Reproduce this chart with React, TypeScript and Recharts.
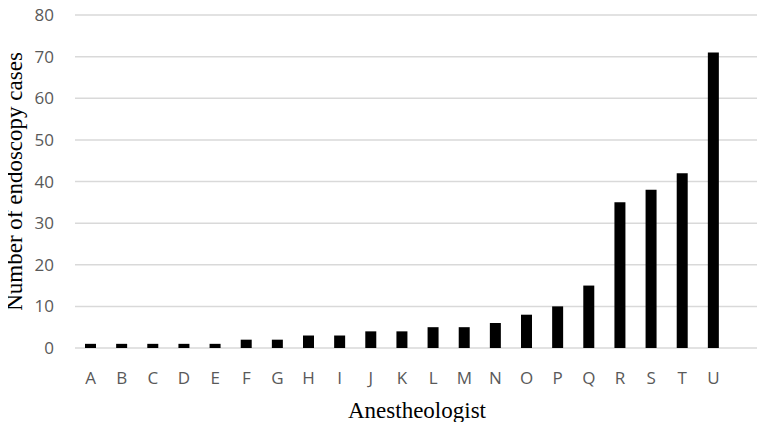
import React from 'react';
import { BarChart, Bar, XAxis, YAxis, CartesianGrid, Label } from 'recharts';

const anesthesiologists = ['A', 'B', 'C', 'D', 'E', 'F', 'G', 'H', 'I', 'J', 'K', 'L', 'M', 'N', 'O', 'P', 'Q', 'R', 'S', 'T', 'U'];
const caseCounts = [1, 1, 1, 1, 1, 2, 2, 3, 3, 4, 4, 5, 5, 6, 8, 10, 15, 35, 38, 42, 71];
const yTicks = [0, 10, 20, 30, 40, 50, 60, 70, 80];

const data = anesthesiologists.map((name, i) => ({ name, cases: caseCounts[i] }));

const tickStyle = { fontSize: 17, fill: '#595959', fontFamily: '"Open Sans", sans-serif' };
const titleFont = '"Liberation Serif", "Times New Roman", serif';

const YTitle = (props: any) => {
  const { viewBox } = props;
  const cy = viewBox.y + viewBox.height / 2;
  return (
    <text x={14} y={cy} transform={`rotate(-90, 14, ${cy})`} textAnchor="middle" dominantBaseline="central"
      fontSize={23} fontFamily={titleFont} fill="#000">
      Number of endoscopy cases
    </text>
  );
};

const XTitle = (props: any) => {
  const { viewBox } = props;
  return (
    <text x={417} y={viewBox.y + 70} textAnchor="middle" fontSize={23} fontFamily={titleFont} fill="#000">
      Anestheologist
    </text>
  );
};

export default function App() {
  return (
    <div style={{ margin: -8, width: 765, height: 430, background: '#fff' }}>
      <BarChart width={765} height={430} data={data} margin={{ top: 15, right: 5, bottom: 0, left: 0 }}>
        <CartesianGrid vertical={false} stroke="#d9d9d9" strokeWidth={1.5} />
        <XAxis
          dataKey="name"
          height={82}
          axisLine={false}
          tickLine={false}
          tickSize={0}
          tickMargin={24}
          tick={tickStyle}
          interval={0}
          padding={{ left: 0, right: 31 }}
        >
          <Label content={<XTitle />} />
        </XAxis>
        <YAxis
          width={75}
          domain={[0, 80]}
          ticks={yTicks}
          axisLine={false}
          tickLine={false}
          tickSize={6}
          tickMargin={15}
          tick={tickStyle}
        >
          <Label content={<YTitle />} />
        </YAxis>
        <Bar dataKey="cases" fill="#000" barSize={11} isAnimationActive={false} />
      </BarChart>
    </div>
  );
}
